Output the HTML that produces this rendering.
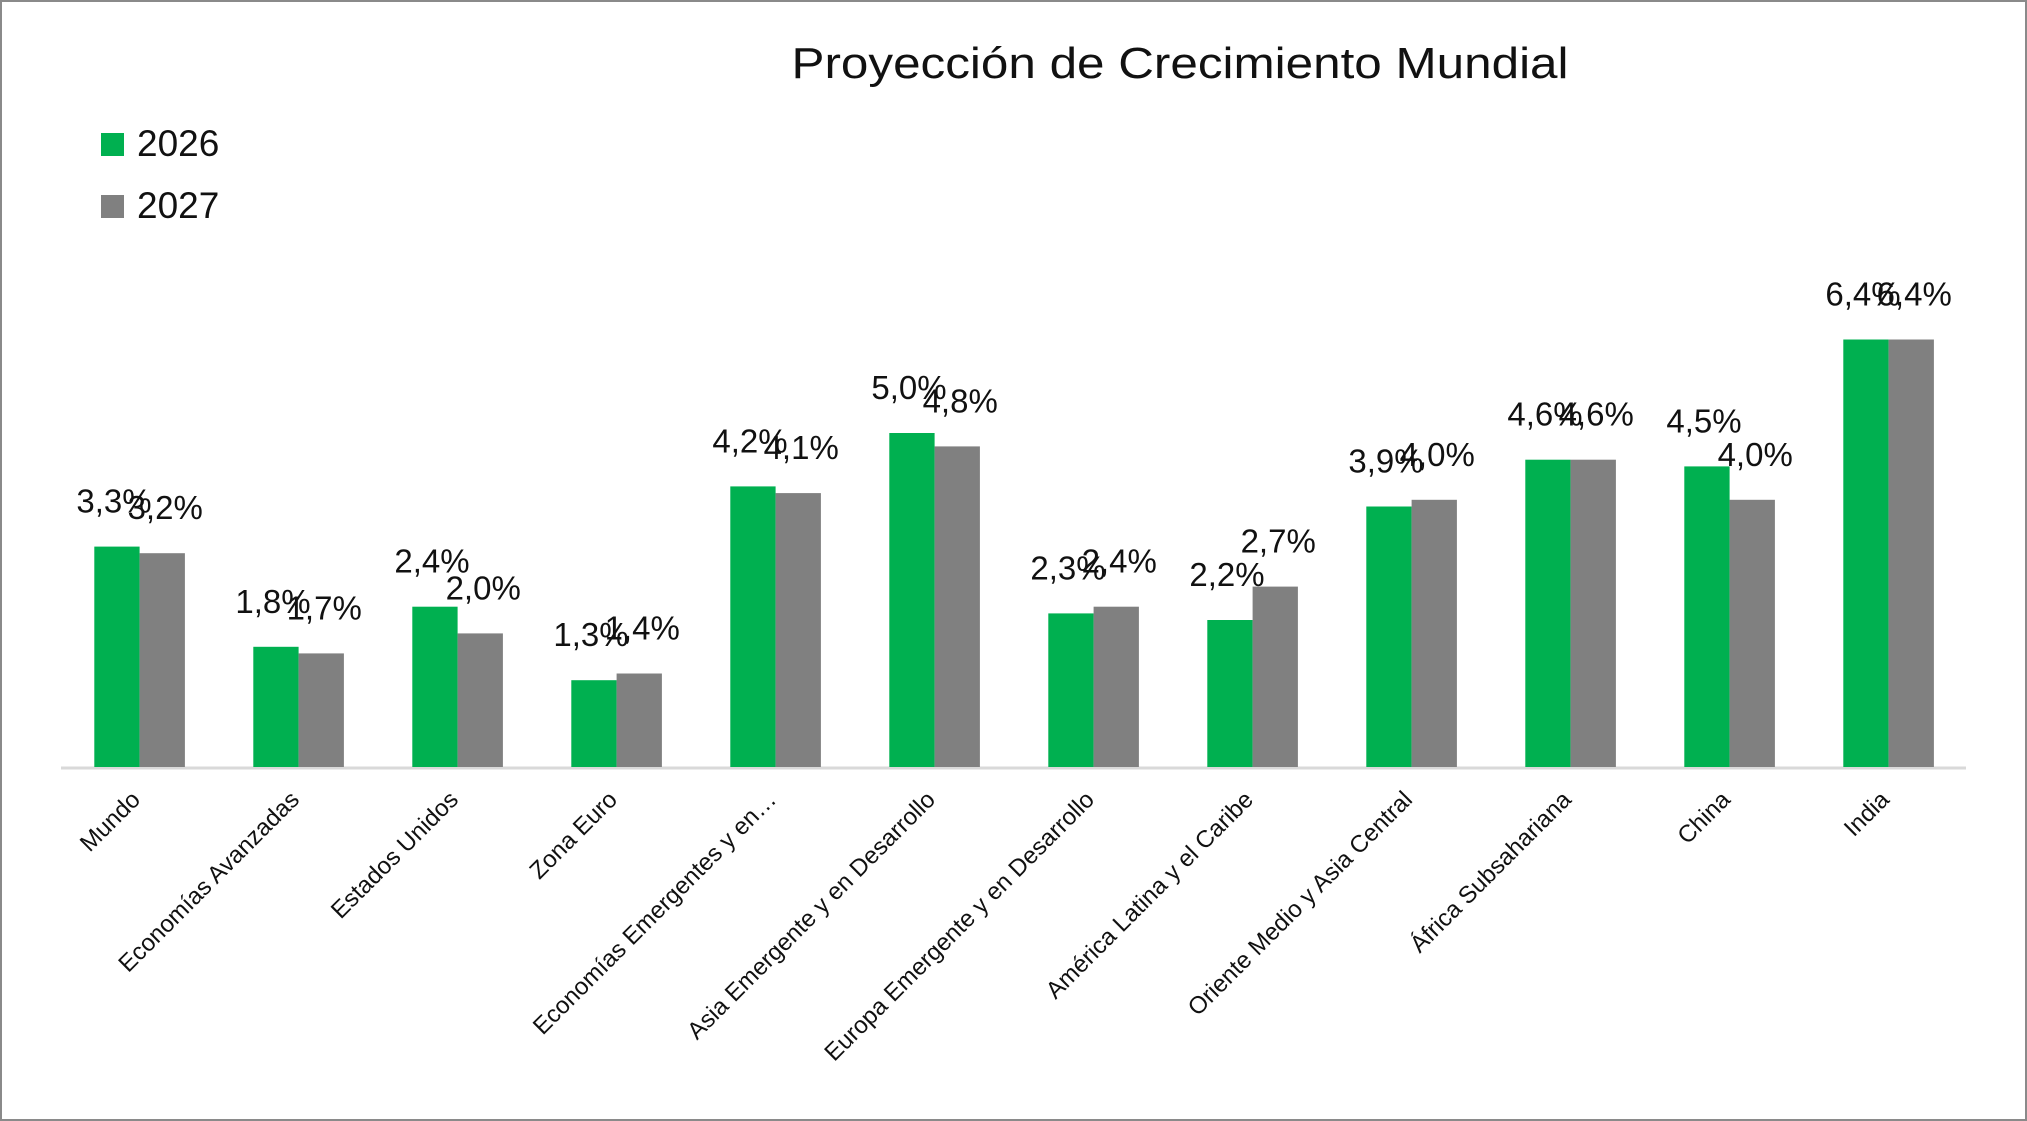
<!DOCTYPE html>
<html><head><meta charset="utf-8"><style>
html,body{margin:0;padding:0;background:#fff}
svg{display:block}
text{font-family:"Liberation Sans",sans-serif;fill:#111}
.g{fill:#00b050}.r{fill:#808080}
.v{font-size:33px;text-anchor:middle}
.c{font-size:24px;text-anchor:end}
</style></head><body>
<svg width="2027" height="1121" viewBox="0 0 2027 1121" xmlns="http://www.w3.org/2000/svg">
<rect x="1" y="1" width="2025" height="1119" fill="#fff" stroke="#8a8a8a" stroke-width="2"/>
<text x="1180" y="78" font-size="44" text-anchor="middle" textLength="777" lengthAdjust="spacingAndGlyphs">Proyección de Crecimiento Mundial</text>
<rect x="101" y="133" width="23" height="23" fill="#00b050"/>
<text x="137" y="156" font-size="37">2026</text>
<rect x="101" y="195" width="23" height="23" fill="#808080"/>
<text x="137" y="218" font-size="37">2027</text>
<line x1="61" y1="768" x2="1966" y2="768" stroke="#d9d9d9" stroke-width="3"/>

<rect class="g" x="94.3" y="546.6" width="45.3" height="220.4"/><rect class="r" x="139.6" y="553.2" width="45.3" height="213.8"/>
<text class="v" x="114" y="512.6">3,3%</text><text class="v" x="165.2" y="519.2">3,2%</text>
<rect class="g" x="253.3" y="646.8" width="45.3" height="120.2"/><rect class="r" x="298.6" y="653.4" width="45.3" height="113.6"/>
<text class="v" x="273" y="612.8">1,8%</text><text class="v" x="324.2" y="619.4">1,7%</text>
<rect class="g" x="412.3" y="606.7" width="45.3" height="160.3"/><rect class="r" x="457.6" y="633.4" width="45.3" height="133.6"/>
<text class="v" x="432" y="572.7">2,4%</text><text class="v" x="483.2" y="599.4">2,0%</text>
<rect class="g" x="571.3" y="680.2" width="45.3" height="86.8"/><rect class="r" x="616.6" y="673.5" width="45.3" height="93.5"/>
<text class="v" x="591" y="646.2">1,3%</text><text class="v" x="642.2" y="639.5">1,4%</text>
<rect class="g" x="730.3" y="486.4" width="45.3" height="280.6"/><rect class="r" x="775.6" y="493.1" width="45.3" height="273.9"/>
<text class="v" x="750" y="452.4">4,2%</text><text class="v" x="801.2" y="459.1">4,1%</text>
<rect class="g" x="889.3" y="433" width="45.3" height="334"/><rect class="r" x="934.6" y="446.4" width="45.3" height="320.6"/>
<text class="v" x="909" y="399">5,0%</text><text class="v" x="960.2" y="412.4">4,8%</text>
<rect class="g" x="1048.3" y="613.4" width="45.3" height="153.6"/><rect class="r" x="1093.6" y="606.7" width="45.3" height="160.3"/>
<text class="v" x="1068" y="579.4">2,3%</text><text class="v" x="1119.2" y="572.7">2,4%</text>
<rect class="g" x="1207.3" y="620" width="45.3" height="147"/><rect class="r" x="1252.6" y="586.6" width="45.3" height="180.4"/>
<text class="v" x="1227" y="586">2,2%</text><text class="v" x="1278.2" y="552.6">2,7%</text>
<rect class="g" x="1366.3" y="506.5" width="45.3" height="260.5"/><rect class="r" x="1411.6" y="499.8" width="45.3" height="267.2"/>
<text class="v" x="1386" y="472.5">3,9%</text><text class="v" x="1437.2" y="465.8">4,0%</text>
<rect class="g" x="1525.3" y="459.7" width="45.3" height="307.3"/><rect class="r" x="1570.6" y="459.7" width="45.3" height="307.3"/>
<text class="v" x="1545" y="425.7">4,6%</text><text class="v" x="1596.2" y="425.7">4,6%</text>
<rect class="g" x="1684.3" y="466.4" width="45.3" height="300.6"/><rect class="r" x="1729.6" y="499.8" width="45.3" height="267.2"/>
<text class="v" x="1704" y="432.4">4,5%</text><text class="v" x="1755.2" y="465.8">4,0%</text>
<rect class="g" x="1843.3" y="339.5" width="45.3" height="427.5"/><rect class="r" x="1888.6" y="339.5" width="45.3" height="427.5"/>
<text class="v" x="1863" y="305.5">6,4%</text><text class="v" x="1914.2" y="305.5">6,4%</text>

<text class="c" x="141.6" y="801" transform="rotate(-45 141.6 801)">Mundo</text>
<text class="c" x="300.6" y="801" transform="rotate(-45 300.6 801)">Economías Avanzadas</text>
<text class="c" x="459.6" y="801" transform="rotate(-45 459.6 801)">Estados Unidos</text>
<text class="c" x="618.6" y="801" transform="rotate(-45 618.6 801)">Zona Euro</text>
<text class="c" x="777.6" y="801" transform="rotate(-45 777.6 801)">Economías Emergentes y en…</text>
<text class="c" x="936.6" y="801" transform="rotate(-45 936.6 801)">Asia Emergente y en Desarrollo</text>
<text class="c" x="1095.6" y="801" transform="rotate(-45 1095.6 801)">Europa Emergente y en Desarrollo</text>
<text class="c" x="1254.6" y="801" transform="rotate(-45 1254.6 801)">América Latina y el Caribe</text>
<text class="c" x="1413.6" y="801" transform="rotate(-45 1413.6 801)">Oriente Medio y Asia Central</text>
<text class="c" x="1572.6" y="801" transform="rotate(-45 1572.6 801)">África Subsahariana</text>
<text class="c" x="1731.6" y="801" transform="rotate(-45 1731.6 801)">China</text>
<text class="c" x="1890.6" y="801" transform="rotate(-45 1890.6 801)">India</text>
</svg>
</body></html>
